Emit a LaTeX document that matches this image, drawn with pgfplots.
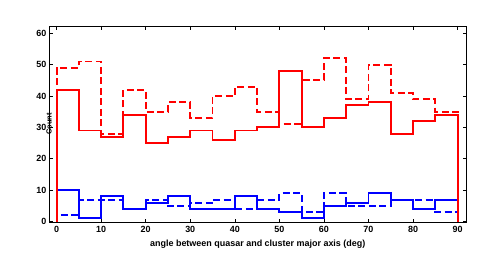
\documentclass[border=0pt]{standalone}
\usepackage{pgfplots}
\pgfplotsset{compat=1.18}
\usepackage{fontspec}
\setmainfont{Liberation Sans}
\begin{document}
\begin{tikzpicture}[x=1bp,y=1bp]
\path[use as bounding box] (0,0) rectangle (496,275);
\begin{axis}[
  at={(49bp,52.5bp)}, anchor=south west,
  scale only axis, width=417.5bp, height=196.5bp,
  xmin=-1.7, xmax=92, ymin=-0.3, ymax=62.3,
  xtick={0,10,...,90}, ytick={0,10,...,60},
  tick align=inside, major tick length=4bp,
  tick style={black, line width=0.6bp},
  axis line style={black, line width=0.9bp},
  /pgf/number format/assume math mode=true,
  ticklabel style={font=\fontsize{9}{10}\selectfont\bfseries},
  xticklabel style={anchor=north, inner sep=0pt, yshift=-4bp},
  yticklabel style={anchor=east, inner sep=0pt, xshift=-2.5bp},
  xlabel={angle between quasar and cluster major axis (deg)},
  xlabel style={at={(axis description cs:0.5,0)}, anchor=center, yshift=-21.5bp, font=\fontsize{9}{10}\selectfont\bfseries},
  ylabel={Count},
  ylabel style={at={(axis description cs:0,0.6)}, anchor=center, xshift=-19.5bp, font=\fontsize{7.5}{8}\selectfont\bfseries},
  every axis plot/.append style={line width=1.9bp, const plot mark left, mark=none},
  clip=false,
]
% blue dashed
\addplot[blue, dash pattern=on 7bp off 3.5bp] coordinates {
(0,0)(0,2)(5,7)(10,7)(15,4)(20,7)(25,5)(30,6)(35,7)(40,4)(45,7)(50,9)(55,3)(60,9)(65,5)(70,5)(75,7)(80,7)(85,3)(90,3)(90,0)};
% blue solid
\addplot[blue] coordinates {
(0,0)(0,10)(5,1)(10,8)(15,4)(20,6)(25,8)(30,4)(35,4)(40,8)(45,4)(50,3)(55,1)(60,5)(65,6)(70,9)(75,7)(80,4)(85,7)(90,7)(90,0)};
% red dashed
\addplot[red, dash pattern=on 7bp off 3.5bp] coordinates {
(0,0)(0,49)(5,51)(10,28)(15,42)(20,35)(25,38)(30,33)(35,40)(40,43)(45,35)(50,31)(55,45)(60,52)(65,39)(70,50)(75,41)(80,39)(85,35)(90,35)(90,0)};
% red solid
\addplot[red] coordinates {
(0,0)(0,42)(5,29)(10,27)(15,34)(20,25)(25,27)(30,29)(35,26)(40,29)(45,30)(50,48)(55,30)(60,33)(65,37)(70,38)(75,28)(80,32)(85,34)(90,34)(90,0)};
\end{axis}
\end{tikzpicture}
\end{document}
